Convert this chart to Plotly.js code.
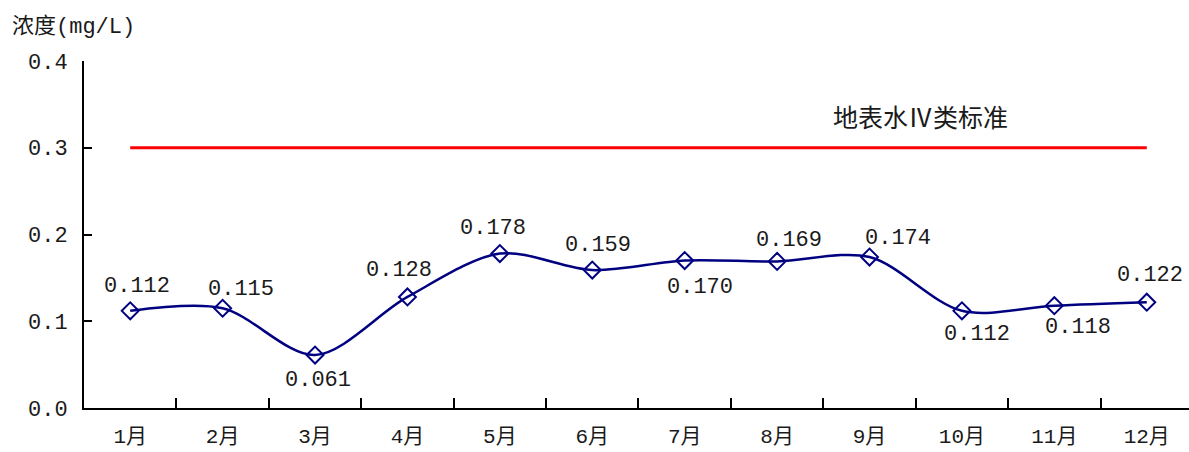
<!DOCTYPE html>
<html>
<head>
<meta charset="utf-8">
<script src="https://cdn.plot.ly/plotly-3.0.1.min.js"></script>
<style>html,body{margin:0;padding:0;background:#fff;}#chart{width:1189px;height:452px;}</style>
</head>
<body>
<div id="chart"></div>
<script>
// ---- data ----
const months = ["1月","2月","3月","4月","5月","6月","7月","8月","9月","10月","11月","12月"];
const concentration = [0.112,0.115,0.061,0.128,0.178,0.159,0.170,0.169,0.174,0.112,0.118,0.122];
const standardIV = [0.3,0.3,0.3,0.3,0.3,0.3,0.3,0.3,0.3,0.3,0.3,0.3];
const standardName = "地表水Ⅳ类标准";
const yTitle = "浓度(mg/L)";

// ---- label placement (layout only) ----
const labelDX = [7,18,3,-8,-7,6,15,12,28,15,24,3];
const labelDY = [24,19,-25,26,25,25,-27,21,19,-24,-22,27];

const numFont = "Liberation Mono, Noto Sans CJK SC, monospace";

const traces = [
  {
    x: months, y: standardIV, type: "scatter", mode: "lines",
    line: {color: "#ff0000", width: 3}, hoverinfo: "skip", showlegend: false
  },
  {
    x: months, y: concentration, type: "scatter", mode: "lines+markers",
    line: {color: "#000080", width: 2.5, shape: "spline", smoothing: 0.9},
    marker: {symbol: "diamond-open", size: 13, color: "#000080", line: {width: 2, color: "#000080"}},
    showlegend: false
  }
];

const annotations = concentration.map((v, i) => ({
  x: months[i], y: v, xref: "x", yref: "y",
  text: v.toFixed(3), showarrow: false,
  xshift: labelDX[i], yshift: labelDY[i],
  font: {family: numFont, size: 22, color: "#1a1a1a"}
}));
annotations.push({
  xref: "paper", yref: "y", x: 0.757, y: standardIV[0], yshift: 28,
  xanchor: "center", yanchor: "middle",
  text: standardName, showarrow: false,
  font: {family: numFont, size: 25, color: "#1a1a1a"}
});
annotations.push({
  xref: "paper", yref: "paper", x: -0.067, y: 1.098, xanchor: "left", yanchor: "middle",
  text: yTitle, showarrow: false,
  font: {family: numFont, size: 22, color: "#1a1a1a"}
});

const layout = {
  width: 1189, height: 452,
  margin: {l: 84, r: 0, t: 61, b: 44},
  paper_bgcolor: "#fff", plot_bgcolor: "#fff",
  showlegend: false,
  xaxis: {
    type: "category", categoryorder: "array", categoryarray: months,
    range: [-0.5, 11.457],
    showline: true, linecolor: "#000", linewidth: 2,
    ticks: "inside", tickson: "boundaries", ticklen: 10, tickwidth: 2, tickcolor: "#000",
    showgrid: false, zeroline: false,
    tickfont: {family: numFont, size: 21, color: "#1a1a1a"},
    ticklabelstandoff: 8
  },
  yaxis: {
    range: [0, 0.4], dtick: 0.1, tick0: 0, tickformat: ".1f",
    showline: true, linecolor: "#000", linewidth: 2,
    ticks: "inside", ticklen: 8, tickwidth: 2, tickcolor: "#000",
    showgrid: false, zeroline: false,
    tickfont: {family: numFont, size: 22, color: "#1a1a1a"},
    ticklabelstandoff: 10
  },
  annotations: annotations
};

Plotly.newPlot("chart", traces, layout, {displayModeBar: false, staticPlot: true});
</script>
</body>
</html>
